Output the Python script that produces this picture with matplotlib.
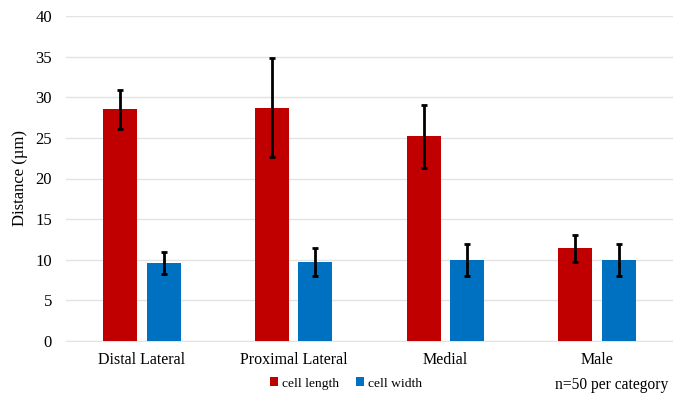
import matplotlib.pyplot as plt
import numpy as np

plt.rcParams['font.family'] = ['Liberation Serif', 'DejaVu Serif']

# data
categories = ['Distal Lateral', 'Proximal Lateral', 'Medial', 'Male']
cell_length = [28.5, 28.7, 25.2, 11.4]
cell_length_err = [2.4, 6.1, 3.9, 1.7]
cell_width = [9.6, 9.7, 10.0, 10.0]
cell_width_err = [1.3, 1.75, 1.95, 2.0]

fig = plt.figure(figsize=(6.73, 3.97), dpi=100)
ax = fig.add_axes([66 / 673, 56 / 397, 1 - 66 / 673, 325 / 397])

x = np.arange(len(categories))
w = 0.224
off = 0.143
err_kw = dict(ecolor='black', elinewidth=2, capsize=2.5, capthick=2)
ax.bar(x - off, cell_length, w, yerr=cell_length_err, color='#c00000',
       label='cell length', error_kw=err_kw, zorder=3)
ax.bar(x + off, cell_width, w, yerr=cell_width_err, color='#0070c0',
       label='cell width', error_kw=err_kw, zorder=3)

ax.set_xlim(-0.5, 3.5)
ax.set_ylim(0, 40)
ax.set_yticks(range(0, 41, 5))
ax.set_xticks(x)
ax.set_xticklabels(categories, fontsize=11.5)
ax.tick_params(axis='y', labelsize=12, length=0, pad=10)
ax.tick_params(axis='x', length=0, pad=8)
ax.grid(axis='y', color='#e3e3e3', linewidth=1, zorder=0)
for s in ['top', 'right', 'left']:
    ax.spines[s].set_visible(False)
ax.spines['bottom'].set_color('#e3e3e3')
ax.set_ylabel('Distance (\u00b5m)', fontsize=12, labelpad=5)

fig.legend(loc='center', bbox_to_anchor=(0.514, 0.034), ncol=2, frameon=False,
           fontsize=9.7, handlelength=0.6, handleheight=0.6, handletextpad=0.3,
           columnspacing=1.2)
fig.text(0.993, 0.03, 'n=50 per category', ha='right', va='center', fontsize=11.2)

plt.savefig('out.png', dpi=100)
